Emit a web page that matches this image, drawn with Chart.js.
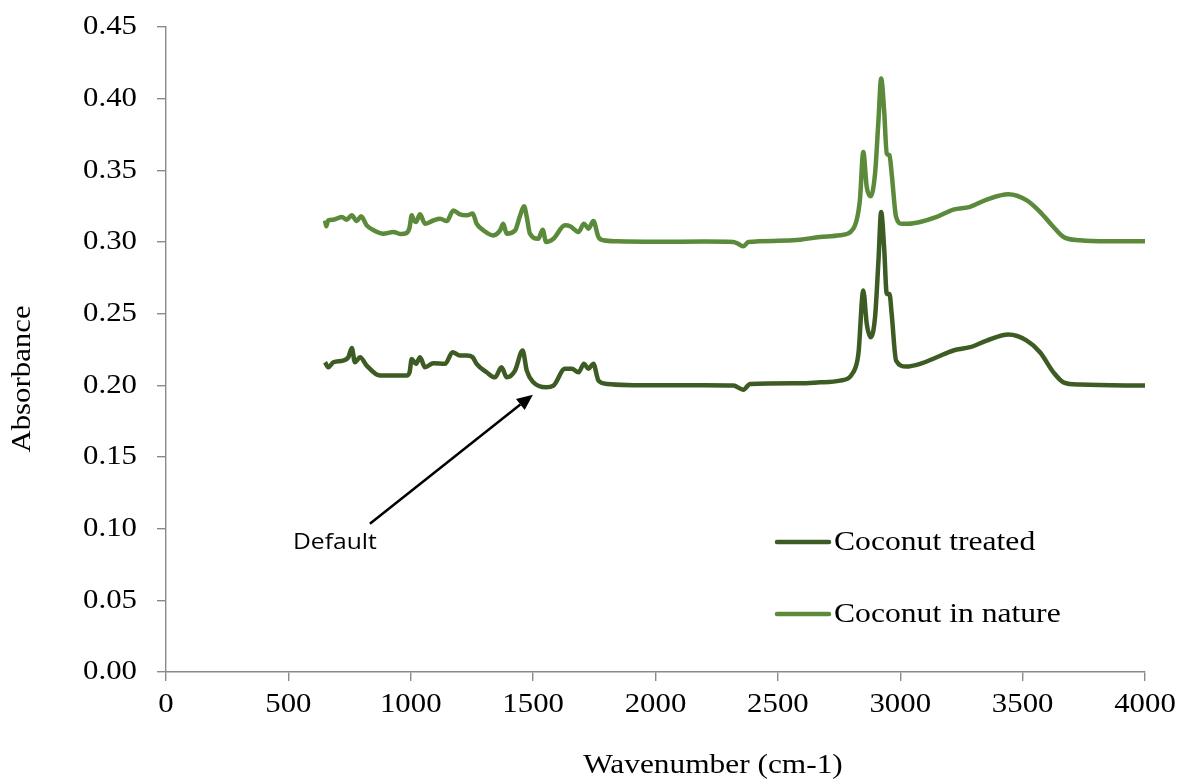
<!DOCTYPE html>
<html>
<head>
<meta charset="utf-8">
<title>FTIR spectra – coconut fibre</title>
<script src="https://cdn.jsdelivr.net/npm/chart.js@4/dist/chart.umd.min.js"></script>
<style>
  html, body { margin: 0; padding: 0; background: #ffffff; }
  #wrap { width: 1177px; height: 780px; }
</style>
</head>
<body>
<div id="wrap"><canvas id="chart" width="1177" height="780"></canvas></div>
<script>
// Wavenumber (cm-1) and absorbance for the untreated fibre
const natureWavenumbers = [650, 655, 662, 683, 700, 718, 738, 759, 779, 797, 820, 850, 888, 929, 960, 983, 995, 1004, 1013, 1021, 1038, 1058, 1092, 1120, 1147, 1174, 1201, 1229, 1253, 1269, 1297, 1337, 1365, 1378, 1392, 1426, 1447, 1463, 1474, 1487, 1521, 1539, 1553, 1583, 1630, 1651, 1685, 1708, 1726, 1746, 1767, 1787, 1842, 2000, 2200, 2318, 2340, 2359, 2380, 2500, 2591, 2672, 2754, 2808, 2835, 2849, 2863, 2879, 2897, 2911, 2922, 2934, 2945, 2956, 2965, 2983, 3006, 3033, 3081, 3149, 3217, 3285, 3353, 3442, 3517, 3571, 3626, 3667, 3735, 3850, 4000];
const natureAbsorbance = [0.315, 0.311, 0.315, 0.3156, 0.3165, 0.3175, 0.3156, 0.3186, 0.3146, 0.318, 0.3116, 0.308, 0.3058, 0.307, 0.3055, 0.3063, 0.310, 0.3186, 0.315, 0.314, 0.3193, 0.3128, 0.315, 0.3163, 0.3146, 0.322, 0.3193, 0.3186, 0.3198, 0.3128, 0.3081, 0.3046, 0.3081, 0.3128, 0.3058, 0.308, 0.3186, 0.3249, 0.3175, 0.3058, 0.3023, 0.3086, 0.300, 0.3023, 0.3116, 0.311, 0.307, 0.3128, 0.3093, 0.3146, 0.3035, 0.3012, 0.3005, 0.3002, 0.3003, 0.300, 0.2985, 0.297, 0.300, 0.3008, 0.3016, 0.3035, 0.3047, 0.3093, 0.329, 0.3628, 0.3384, 0.3319, 0.3477, 0.385, 0.414, 0.392, 0.3617, 0.3605, 0.3477, 0.3175, 0.3128, 0.3128, 0.314, 0.3175, 0.3226, 0.3245, 0.3296, 0.3333, 0.329, 0.321, 0.3105, 0.3035, 0.3012, 0.3005, 0.3005];

// Wavenumber (cm-1) and absorbance for the treated fibre
const treatedWavenumbers = [650, 663, 684, 724, 745, 759, 772, 793, 820, 874, 929, 983, 995, 1004, 1021, 1038, 1058, 1092, 1140, 1171, 1201, 1229, 1253, 1269, 1310, 1344, 1371, 1392, 1426, 1457, 1474, 1501, 1553, 1583, 1630, 1658, 1685, 1708, 1726, 1746, 1767, 1801, 2000, 2200, 2318, 2359, 2387, 2591, 2672, 2754, 2808, 2829, 2849, 2863, 2879, 2897, 2911, 2922, 2934, 2945, 2956, 2965, 2983, 3024, 3081, 3149, 3217, 3285, 3353, 3442, 3517, 3571, 3626, 3667, 3735, 4000];
const treatedAbsorbance = [0.2161, 0.2126, 0.2161, 0.2173, 0.2196, 0.2261, 0.2161, 0.2196, 0.2138, 0.2068, 0.2068, 0.2068, 0.209, 0.2184, 0.215, 0.2196, 0.2126, 0.2154, 0.215, 0.2231, 0.2208, 0.2208, 0.2196, 0.215, 0.2091, 0.2056, 0.2126, 0.2056, 0.2103, 0.2243, 0.2103, 0.2021, 0.1986, 0.1998, 0.2115, 0.2115, 0.2091, 0.215, 0.2115, 0.215, 0.2033, 0.201, 0.200, 0.200, 0.1998, 0.197, 0.201, 0.2015, 0.2021, 0.2033, 0.2091, 0.222, 0.2662, 0.243, 0.2336, 0.2475, 0.2871, 0.321, 0.2965, 0.2638, 0.2638, 0.2498, 0.2173, 0.2131, 0.215, 0.2196, 0.2243, 0.2266, 0.2312, 0.2354, 0.2312, 0.2231, 0.2091, 0.2021, 0.2005, 0.1998];

const seriesNames = ['Coconut treated', 'Coconut in nature'];
const xTickRange = [0, 4000, 500];
const yTickRange = [0, 0.45, 0.05];
const axisTitles = ['Wavenumber (cm-1)', 'Absorbance'];

// Annotation: label and arrow (tail -> head) in data units
const annotationText = 'Default';
const annotationLabelAt = [690, 0.0905];
const annotationTail = [833, 0.1034];
const annotationHead = [1499, 0.1935];

const SERIF = '"Liberation Serif", "Times New Roman", serif';
const AXIS_GREY = '#8a8a8a';
const COLOR_TREATED = '#3d5c24';
const COLOR_NATURE = '#5a8a3a';
const TEXT_STRETCH = 1.1;   // slightly widened lettering

const xFormat = (v) => String(v);
const yFormat = (v) => Number(v).toFixed(2);

function pairs(xs, ys) {
  return xs.map((x, i) => ({ x: x, y: ys[i] }));
}

// draw text widened horizontally about its anchor
function wideText(ctx, text, x, y, align, stretch) {
  ctx.save();
  ctx.translate(x, y);
  ctx.scale(stretch, 1);
  ctx.textAlign = align;
  ctx.fillText(text, 0, 0);
  ctx.restore();
}

// Tick labels, axis titles, in-plot legend and the arrow annotation
const decorations = {
  id: 'decorations',
  afterDraw(chart) {
    const ctx = chart.ctx;
    const xs = chart.scales.x, ys = chart.scales.y;
    const area = chart.chartArea;
    ctx.save();
    ctx.fillStyle = '#000';
    ctx.textBaseline = 'middle';

    // tick labels
    ctx.font = '28px ' + SERIF;
    xs.ticks.forEach((t) => {
      wideText(ctx, xFormat(t.value), xs.getPixelForValue(t.value), area.bottom + 33, 'center', TEXT_STRETCH);
    });
    ys.ticks.forEach((t) => {
      wideText(ctx, yFormat(t.value), area.left - 29, ys.getPixelForValue(t.value), 'right', TEXT_STRETCH);
    });

    // axis titles
    ctx.font = '28px ' + SERIF;
    wideText(ctx, axisTitles[0], 713, 766, 'center', 1.12);
    ctx.save();
    ctx.translate(23, 379);
    ctx.rotate(-Math.PI / 2);
    wideText(ctx, axisTitles[1], 0, 0, 'center', 1.1);
    ctx.restore();

    // legend inside the plot, lower right
    const rows = [542, 614];
    chart.data.datasets.forEach((ds, i) => {
      const y = rows[i];
      ctx.strokeStyle = ds.borderColor;
      ctx.lineWidth = 4.5;
      ctx.lineCap = 'round';
      ctx.beginPath();
      ctx.moveTo(777, y);
      ctx.lineTo(829, y);
      ctx.stroke();
      ctx.font = '28px ' + SERIF;
      wideText(ctx, ds.label, 834, y + 1, 'left', 1.13);
    });

    // arrow annotation
    const tx = xs.getPixelForValue(annotationTail[0]);
    const ty = ys.getPixelForValue(annotationTail[1]);
    const hx = xs.getPixelForValue(annotationHead[0]);
    const hy = ys.getPixelForValue(annotationHead[1]);
    const ang = Math.atan2(hy - ty, hx - tx);
    const headLen = 16, headHalf = 7;
    const bx = hx - headLen * Math.cos(ang);
    const by = hy - headLen * Math.sin(ang);
    ctx.strokeStyle = '#000';
    ctx.lineWidth = 2.5;
    ctx.lineCap = 'butt';
    ctx.beginPath();
    ctx.moveTo(tx, ty);
    ctx.lineTo(bx, by);
    ctx.stroke();
    ctx.beginPath();
    ctx.moveTo(hx, hy);
    ctx.lineTo(bx + headHalf * Math.sin(ang), by - headHalf * Math.cos(ang));
    ctx.lineTo(bx - headHalf * Math.sin(ang), by + headHalf * Math.cos(ang));
    ctx.closePath();
    ctx.fill();

    ctx.font = '22px "Open Sans", "Noto Sans", sans-serif';
    wideText(ctx, annotationText,
      xs.getPixelForValue(annotationLabelAt[0]),
      ys.getPixelForValue(annotationLabelAt[1]), 'center', 1.12);

    ctx.restore();
  }
};

function fixScale(size) {
  return function (scale) {
    if (scale.isHorizontal()) scale.height = size; else scale.width = size;
    scale.paddingTop = 0; scale.paddingBottom = 0;
    scale.paddingLeft = 0; scale.paddingRight = 0;
  };
}

new Chart(document.getElementById('chart'), {
  type: 'line',
  data: {
    datasets: [
      {
        label: seriesNames[0],
        data: pairs(treatedWavenumbers, treatedAbsorbance),
        borderColor: COLOR_TREATED,
        borderWidth: 4.5,
        pointRadius: 0,
        cubicInterpolationMode: 'monotone',
        fill: false
      },
      {
        label: seriesNames[1],
        data: pairs(natureWavenumbers, natureAbsorbance),
        borderColor: COLOR_NATURE,
        borderWidth: 4.5,
        pointRadius: 0,
        cubicInterpolationMode: 'monotone',
        fill: false
      }
    ]
  },
  options: {
    responsive: false,
    animation: false,
    layout: { padding: { top: 27, right: 32, left: 0, bottom: 0 } },
    plugins: {
      legend: { display: false },
      tooltip: { enabled: false },
      title: { display: false }
    },
    scales: {
      x: {
        type: 'linear',
        min: xTickRange[0],
        max: xTickRange[1],
        afterFit: fixScale(108),
        border: { display: true, color: AXIS_GREY, width: 1.4 },
        grid: { display: true, drawOnChartArea: false, drawTicks: true, tickLength: 9, color: AXIS_GREY, lineWidth: 1.4 },
        ticks: {
          stepSize: xTickRange[2],
          color: 'rgba(0,0,0,0)',
          padding: 8,
          maxRotation: 0,
          autoSkip: false,
          font: { family: SERIF, size: 28 },
          callback: xFormat
        }
      },
      y: {
        type: 'linear',
        min: yTickRange[0],
        max: yTickRange[1],
        afterFit: fixScale(166),
        border: { display: true, color: AXIS_GREY, width: 1.4 },
        grid: { display: true, drawOnChartArea: false, drawTicks: true, tickLength: 9, color: AXIS_GREY, lineWidth: 1.4 },
        ticks: {
          stepSize: yTickRange[2],
          color: 'rgba(0,0,0,0)',
          padding: 20,
          autoSkip: false,
          font: { family: SERIF, size: 28 },
          callback: yFormat
        }
      }
    }
  },
  plugins: [decorations]
});
</script>
</body>
</html>
